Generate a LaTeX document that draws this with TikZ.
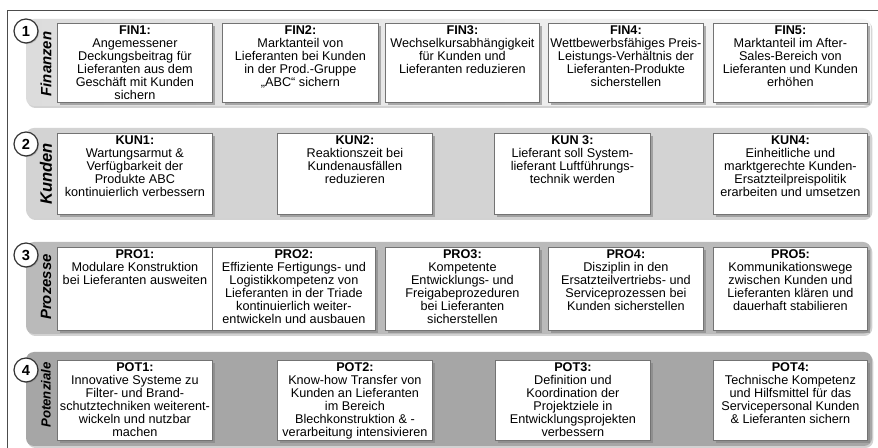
\documentclass[tikz,border=0pt]{standalone}
\usepackage{fontspec}
\setmainfont{Liberation Sans}
\usetikzlibrary{shadows}
\definecolor{bandA}{HTML}{DCDCDC}
\definecolor{bandB}{HTML}{D3D3D3}
\definecolor{bandC}{HTML}{BABABA}
\definecolor{bandD}{HTML}{A6A6A6}
\tikzset{
  band/.style={rounded corners=6pt, draw=none, drop shadow={shadow xshift=1pt, shadow yshift=-1.5pt, opacity=0.35}},
  box/.style={draw=black!55, line width=0.6pt, fill=white, inner sep=0pt, anchor=north west,
    drop shadow={shadow xshift=1.8pt, shadow yshift=-1.8pt, opacity=0.6}},
  txt/.style={anchor=north, align=center, inner sep=1.6pt, font=\fontsize{9.5}{9.75}\selectfont},
  num/.style={circle, draw=black!80, line width=0.9pt, fill=white, minimum size=18pt, inner sep=0pt,
    font=\bfseries\fontsize{11}{11}\selectfont,
    drop shadow={shadow xshift=0.8pt, shadow yshift=-0.8pt, opacity=0.4}},
  tab/.style={rotate=90, inner sep=0pt},
  frame/.style={draw=black!70, line width=0.7pt}
}
\newcommand\mybx[6]{%
  \node[box, minimum width={(#4-#2)*0.75pt}, minimum height={(#5-#3)*0.75pt}] (#1) at (#2,#3) {};
  \node[txt] (#1t) at (#1.north) {#6};
}
\begin{document}
\begin{tikzpicture}[x=0.75pt, y=-0.75pt]
\useasboundingbox (0,0) rectangle (878,448);
\fill[white] (0,0) rectangle (878,448);
% frame
\coordinate (f1) at (7,449);
\coordinate (f2) at (7,10);
\coordinate (f3) at (878,10);
\draw[frame] (f1) -- (f2) -- (f3);
% bands
\path[band, left color=bandA, right color=white!97!black] (26,19) rectangle (871,106);
\path[band, fill=bandB] (26,128) rectangle (871,218);
\path[band, fill=bandC] (26,242) rectangle (871,334);
\path[band, fill=bandD] (26,352) rectangle (872,446);
% row 1
\mybx{FIN1}{57}{23}{212}{102}{\textbf{FIN1:}\\Angemessener\\Deckungsbeitrag für\\Lieferanten aus dem\\Geschäft mit Kunden\\sichern}
\mybx{FIN2}{222}{23}{378}{102}{\textbf{FIN2:}\\Marktanteil von\\Lieferanten bei Kunden\\in der Prod.-Gruppe\\„ABC“ sichern}
\mybx{FIN3}{385}{23}{539}{102}{\textbf{FIN3:}\\Wechselkursabhängigkeit\\für Kunden und\\Lieferanten reduzieren}
\mybx{FIN4}{548}{23}{703}{102}{\textbf{FIN4:}\\Wettbewerbsfähiges Preis-\\Leistungs-Verhältnis der\\Lieferanten-Produkte\\sicherstellen}
\mybx{FIN5}{713}{23}{867}{102}{\textbf{FIN5:}\\Marktanteil im After-\\Sales-Bereich von\\Lieferanten und Kunden\\erhöhen}
% row 2
\mybx{KUN1}{57}{133}{212}{214}{\textbf{KUN1:}\\Wartungsarmut \&\\Verfügbarkeit der\\Produkte ABC\\kontinuierlich verbessern}
\mybx{KUN2}{277}{133}{432}{214}{\textbf{KUN2:}\\Reaktionszeit bei\\Kundenausfällen\\reduzieren}
\mybx{KUN3}{494}{133}{650}{214}{\textbf{KUN 3:}\\Lieferant soll System-\\lieferant Luftführungs-\\technik werden}
\mybx{KUN4}{713}{133}{867}{214}{\textbf{KUN4:}\\Einheitliche und\\marktgerechte Kunden-\\Ersatzteilpreispolitik\\erarbeiten und umsetzen}
% row 3
\mybx{PRO1}{57}{247}{212}{330}{\textbf{PRO1:}\\Modulare Konstruktion\\bei Lieferanten ausweiten}
\mybx{PRO2}{212}{247}{375}{330}{\textbf{PRO2:}\\Effiziente Fertigungs- und\\Logistikkompetenz von\\Lieferanten in der Triade\\kontinuierlich weiter-\\entwickeln und ausbauen}
\mybx{PRO3}{385}{247}{539}{330}{\textbf{PRO3:}\\Kompetente\\Entwicklungs- und\\Freigabeprozeduren\\bei Lieferanten\\sicherstellen}
\mybx{PRO4}{548}{247}{703}{330}{\textbf{PRO4:}\\Disziplin in den\\Ersatzteilvertriebs- und\\Serviceprozessen bei\\Kunden sicherstellen}
\mybx{PRO5}{713}{247}{867}{330}{\textbf{PRO5:}\\Kommunikationswege\\zwischen Kunden und\\Lieferanten klären und\\dauerhaft stabilieren}
% row 4
\mybx{POT1}{57}{360}{212}{440}{\textbf{POT1:}\\Innovative Systeme zu\\Filter- und Brand-\\schutztechniken weiterent-\\wickeln und nutzbar\\machen}
\mybx{POT2}{277}{360}{432}{440}{\textbf{POT2:}\\Know-how Transfer von\\Kunden an Lieferanten\\im Bereich\\Blechkonstruktion \& -\\verarbeitung intensivieren}
\mybx{POT3}{495}{360}{650}{440}{\textbf{POT3:}\\Definition und\\Koordination der\\Projektziele in\\Entwicklungsprojekten\\verbessern}
\mybx{POT4}{713}{360}{867}{440}{\textbf{POT4:}\\Technische Kompetenz\\und Hilfsmittel für das\\Servicepersonal Kunden\\\& Lieferanten sichern}
% tab labels
\node[tab, font=\bfseries\itshape\fontsize{11.2}{11.2}\selectfont] (L1) at (46,64) {Finanzen};
\node[tab, font=\bfseries\itshape\fontsize{12.4}{12.4}\selectfont] (L2) at (46,174) {Kunden};
\node[tab, font=\bfseries\itshape\fontsize{11.2}{11.2}\selectfont] (L3) at (46,287) {Prozesse};
\node[tab, font=\bfseries\itshape\fontsize{9.9}{9.9}\selectfont] (L4) at (46,395) {Potenziale};
% circles
\node[num] (N1) at (26,31) {1};
\node[num] (N2) at (26,144) {2};
\node[num] (N3) at (26,255) {3};
\node[num] (N4) at (26,370) {4};
\end{tikzpicture}
\end{document}
